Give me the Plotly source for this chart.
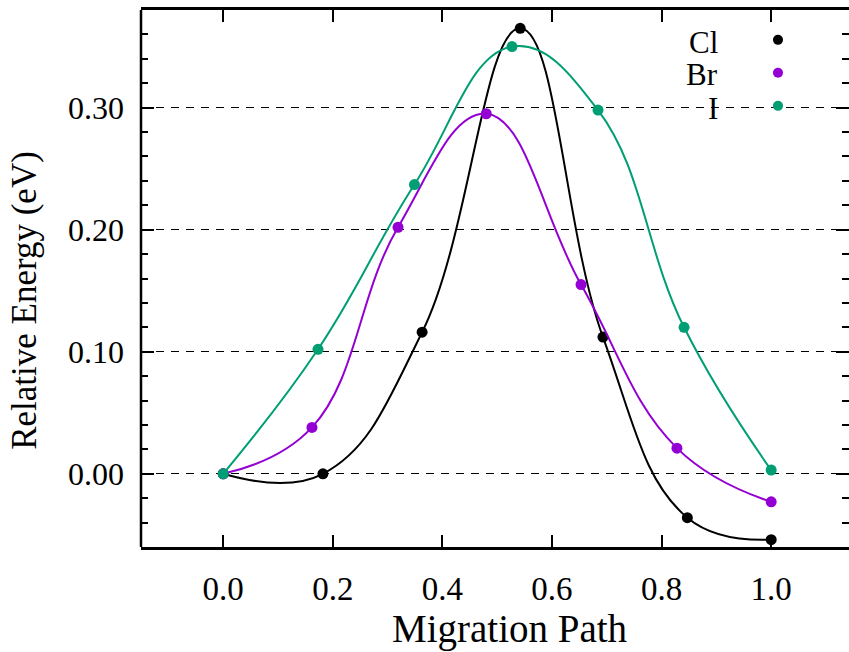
import plotly.graph_objects as go

# ---- data ----
cl_x = [0.0, 0.182, 0.363, 0.542, 0.693, 0.847, 1.0]
cl_y = [0.0, 0.0, 0.116, 0.365, 0.112, -0.036, -0.054]

br_x = [0.0, 0.162, 0.319, 0.480, 0.653, 0.828, 1.0]
br_y = [0.0, 0.038, 0.202, 0.295, 0.155, 0.021, -0.023]

i_x = [0.0, 0.173, 0.349, 0.527, 0.684, 0.841, 1.0]
i_y = [0.0, 0.102, 0.237, 0.350, 0.298, 0.120, 0.003]

series_names = ["Cl", "Br", "I"]
series_colors = ["#000000", "#9400d3", "#009e73"]

x_ticks = [0.0, 0.2, 0.4, 0.6, 0.8, 1.0]
y_ticks = [0.0, 0.1, 0.2, 0.3]

FONT = "Liberation Serif"

fig = go.Figure()
for name, xs, ys, col in zip(series_names, [cl_x, br_x, i_x], [cl_y, br_y, i_y], series_colors):
    fig.add_trace(go.Scatter(
        x=xs, y=ys, mode="lines+markers", name=name,
        line=dict(color=col, width=2, shape="spline", smoothing=1.2),
        marker=dict(color=col, size=11),
        showlegend=False,
    ))

# custom legend: right-aligned text followed by a dot
leg_y = [0.9404, 0.879, 0.8175]
for name, col, ly in zip(series_names, series_colors, leg_y):
    fig.add_annotation(xref="paper", yref="paper", x=0.818, y=ly, text=name,
                       showarrow=False, xanchor="right", yanchor="middle",
                       font=dict(family=FONT, size=31, color="black"))
    fig.add_shape(type="circle", xref="paper", yref="paper",
                  x0=0.8997 - 0.0071, x1=0.8997 + 0.0071,
                  y0=ly + 0.004 - 0.0093, y1=ly + 0.004 + 0.0093,
                  fillcolor=col, line=dict(width=0))

# axis titles as annotations (placed as in the reference)
fig.add_annotation(xref="paper", yref="paper", x=-0.164, y=0.46,
                   text="Relative Energy (eV)", textangle=-90, showarrow=False,
                   xanchor="center", yanchor="middle",
                   font=dict(family=FONT, size=35, color="black"))
fig.add_annotation(xref="paper", yref="paper", x=0.521, y=-0.153,
                   text="Migration Path", showarrow=False,
                   xanchor="center", yanchor="middle",
                   font=dict(family=FONT, size=39, color="black"))

# left spine
fig.add_shape(type="line", xref="paper", yref="paper", x0=0, x1=0, y0=0, y1=1,
              line=dict(color="black", width=2.5), layer="above")

fig.update_layout(
    width=849, height=652,
    margin=dict(l=141, r=0, t=10, b=105),
    paper_bgcolor="white", plot_bgcolor="white",
    font=dict(family=FONT, color="black"),
    xaxis=dict(
        range=[-0.15, 1.142], tickvals=x_ticks, tickformat=".1f",
        ticks="inside", ticklen=12, tickwidth=2, tickcolor="black",
        showline=True, linewidth=2.5, linecolor="black", mirror="ticks",
        showgrid=False, zeroline=False,
        tickfont=dict(family=FONT, size=33),
        ticklabelstandoff=11,
    ),
    yaxis=dict(
        range=[-0.06, 0.38], tickvals=y_ticks, tickformat=".2f",
        ticks="inside", ticklen=13, tickwidth=2, tickcolor="black",
        minor=dict(dtick=0.02, tick0=0, ticks="inside", ticklen=7, tickwidth=2,
                   tickcolor="black", showgrid=False),
        showline=False, mirror="ticks",
        showgrid=True, gridcolor="black", gridwidth=1, griddash="8px,7px",
        zeroline=False,
        tickfont=dict(family=FONT, size=32),
        ticklabelstandoff=16,
    ),
)

fig.write_html("out.html")
